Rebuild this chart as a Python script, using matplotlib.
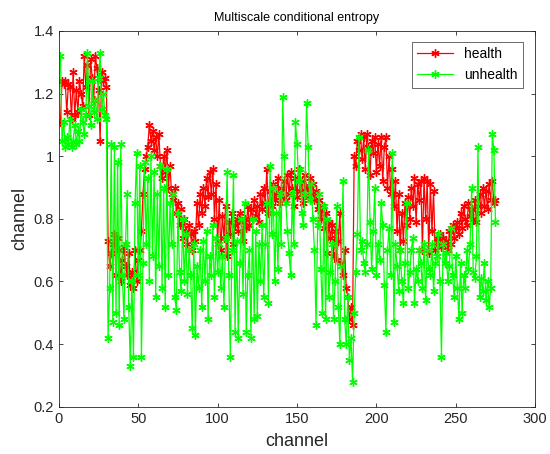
import numpy as np
import matplotlib
matplotlib.use("Agg")
import matplotlib.pyplot as plt

# values, one per channel
health = [
    1.11, 1.24, 1.23, 1.24, 1.14, 1.23, 1.22, 1.12, 1.27, 1.13,
    1.21, 1.14, 1.24, 1.20, 1.16, 1.32, 1.22, 1.29, 1.13, 1.31,
    1.25, 1.18, 1.32, 1.28, 1.21, 1.05, 1.27, 1.24, 1.25, 1.22,
    0.73, 0.65, 0.69, 0.72, 0.75, 0.62, 0.74, 0.70, 0.60, 0.67,
    0.71, 0.65, 0.62, 0.69, 0.59, 0.63, 0.58, 0.70, 0.60, 0.67,
    0.70, 0.76, 0.88, 0.96, 1.00, 1.03, 1.10, 1.05, 1.08, 1.02,
    1.06, 1.00, 1.07, 0.97, 0.93, 1.00, 0.95, 1.02, 0.90, 0.97,
    0.88, 0.86, 0.90, 0.82, 0.85, 0.78, 0.83, 0.74, 0.80, 0.76,
    0.72, 0.78, 0.75, 0.70, 0.76, 0.73, 0.85, 0.78, 0.88, 0.82,
    0.90, 0.84, 0.93, 0.87, 0.95, 0.88, 0.96, 0.80, 0.91, 0.72,
    0.86, 0.70, 0.81, 0.74, 0.84, 0.68, 0.79, 0.75, 0.82, 0.72,
    0.78, 0.80, 0.76, 0.82, 0.79, 0.73, 0.80, 0.77, 0.84, 0.78,
    0.83, 0.80, 0.86, 0.81, 0.84, 0.79, 0.88, 0.83, 0.90, 0.85,
    0.96, 0.82, 0.89, 0.84, 0.91, 0.86, 0.88, 0.93, 0.85, 0.90,
    0.87, 0.92, 0.86, 0.94, 0.88, 0.95, 0.90, 0.84, 0.93, 0.87,
    0.96, 0.89, 0.92, 0.85, 0.94, 0.90, 0.87, 0.93, 0.88, 0.91,
    0.86, 0.89, 0.83, 0.86, 0.80, 0.84, 0.77, 0.82, 0.69, 0.79,
    0.74, 0.78, 0.68, 0.76, 0.67, 0.73, 0.82, 0.66, 0.62, 0.70,
    0.58, 0.55, 0.48, 0.52, 0.46, 1.00, 0.97, 1.05, 1.02, 1.07,
    0.99, 1.06, 0.96, 1.07, 1.03, 0.94, 1.05, 1.01, 1.06, 0.95,
    1.04, 0.97, 1.06, 0.92, 1.03, 1.06, 0.90, 1.00, 0.88, 0.96,
    0.84, 0.92, 0.76, 0.88, 0.70, 0.82, 0.73, 0.85, 0.78, 0.87,
    0.80, 0.90, 0.84, 0.93, 0.79, 0.91, 0.86, 0.92, 0.70, 0.93,
    0.80, 0.92, 0.69, 0.91, 0.76, 0.89, 0.70, 0.74, 0.72, 0.75,
    0.71, 0.74, 0.72, 0.73, 0.70, 0.76, 0.72, 0.78, 0.74, 0.77,
    0.79, 0.75, 0.82, 0.77, 0.84, 0.80, 0.78, 0.85, 0.81, 0.83,
    0.80, 0.86, 0.79, 0.84, 0.88, 0.82, 0.90, 0.84, 0.89, 0.83,
    0.91, 0.86, 0.92, 0.85, 0.86,
]

unhealth = [
    1.32, 1.05, 1.11, 1.03, 1.06, 1.04, 1.12, 1.03, 1.05, 1.10,
    1.04, 1.08, 1.05, 1.15, 1.11, 1.07, 1.13, 1.33, 1.16, 1.10,
    1.24, 1.14, 1.18, 1.12, 1.25, 1.33, 1.15, 1.20, 1.13, 1.12,
    0.42, 0.58, 1.04, 0.47, 1.03, 0.50, 0.98, 0.46, 1.04, 0.62,
    0.48, 0.72, 0.88, 0.52, 0.33, 0.60, 0.36, 0.85, 1.01, 0.62,
    0.97, 0.36, 0.66, 0.98, 0.72, 0.93, 0.60, 1.00, 0.68, 0.95,
    0.55, 0.88, 0.65, 0.97, 0.58, 0.90, 0.52, 0.96, 0.62, 0.85,
    0.72, 0.88, 0.55, 0.51, 0.82, 0.63, 0.57, 0.80, 0.60, 0.75,
    0.56, 0.70, 0.62, 0.45, 0.72, 0.43, 0.65, 0.58, 0.70, 0.52,
    0.73, 0.60, 0.76, 0.48, 0.68, 0.62, 0.78, 0.55, 0.74, 0.63,
    0.72, 0.58, 0.68, 0.52, 0.74, 0.95, 0.62, 0.36, 0.70, 0.94,
    0.44, 0.73, 0.42, 0.66, 0.80, 0.56, 0.85, 0.44, 0.62, 0.70,
    0.42, 0.80, 0.48, 0.76, 0.49, 0.72, 0.60, 0.78, 0.55, 0.72,
    0.85, 0.53, 0.97, 0.75, 0.90, 0.60, 0.82, 0.64, 0.88, 0.72,
    1.19, 1.00, 0.85, 0.76, 0.69, 0.62, 0.88, 0.72, 1.11, 1.04,
    0.92, 0.96, 0.82, 0.78, 0.88, 1.17, 1.03, 0.86, 0.91, 0.80,
    0.70, 0.46, 0.78, 0.88, 0.64, 0.50, 0.84, 0.48, 0.80, 0.55,
    0.63, 0.72, 0.48, 0.60, 0.84, 0.52, 0.40, 0.65, 0.92, 0.48,
    0.40, 0.55, 0.35, 0.42, 0.28, 0.50, 0.63, 0.75, 1.06, 0.70,
    0.73, 0.66, 0.63, 0.72, 1.02, 0.79, 0.64, 0.76, 0.90, 0.62,
    0.72, 0.67, 0.85, 0.78, 0.59, 0.44, 0.70, 0.77, 0.62, 1.01,
    0.47, 0.72, 0.65, 0.57, 0.70, 0.60, 0.53, 0.66, 0.85, 0.58,
    0.63, 0.70, 0.74, 0.53, 0.64, 0.60, 0.70, 0.66, 0.58, 0.72,
    0.54, 0.70, 0.64, 0.62, 0.72, 0.57, 0.66, 0.68, 0.75, 0.60,
    0.36, 0.72, 0.66, 0.69, 0.60, 0.65, 0.77, 0.62, 0.55, 0.68,
    0.58, 0.48, 0.66, 0.50, 0.62, 0.58, 0.70, 0.64, 0.72, 0.90,
    0.63, 0.61, 0.68, 1.03, 0.55, 0.61, 0.57, 0.66, 0.54, 0.60,
    0.52, 0.58, 1.07, 1.02, 0.79,
]

channels = np.arange(1, len(health) + 1)
xticks = [0, 50, 100, 150, 200, 250, 300]
yticks = [0.2, 0.4, 0.6, 0.8, 1.0, 1.2, 1.4]
ytick_labels = ["0.2", "0.4", "0.6", "0.8", "1", "1.2", "1.4"]

plt.rcParams["font.family"] = ["Liberation Sans", "DejaVu Sans"]

fig = plt.figure(figsize=(5.5, 4.54), dpi=100)
ax = fig.add_axes([0.107, 0.104, 0.866, 0.828])

star = (6, 2, 0)
ax.plot(channels, health, color="#ff0000", lw=0.9, marker=star, ms=6,
        mew=1.0, label="health")
ax.plot(channels, unhealth, color="#00ff00", lw=0.9, marker=star, ms=6,
        mew=1.0, label="unhealth")

ax.set_xlim(0, 300)
ax.set_ylim(0.2, 1.4)
ax.set_xticks(xticks)
ax.set_yticks(yticks)
ax.set_yticklabels(ytick_labels)

dark = "#262626"
for s in ax.spines.values():
    s.set_color(dark)
    s.set_linewidth(0.6)
ax.tick_params(direction="in", top=True, right=True, length=3, width=0.6,
               colors=dark, labelsize=10.5, labelcolor=dark)

ax.set_xlabel("channel", fontsize=13, color=dark, labelpad=5)
ax.set_ylabel("channel", fontsize=13, color=dark, labelpad=4)
ax.set_title("Multiscale conditional entropy", fontsize=9, color="black", pad=7)

leg = ax.legend(loc="upper right", fontsize=10, frameon=True, fancybox=False,
                edgecolor=dark, handlelength=2.6, borderpad=0.4,
                bbox_to_anchor=(0.99, 0.99))
leg.get_frame().set_linewidth(0.6)

fig.savefig("out.png", dpi=100)
